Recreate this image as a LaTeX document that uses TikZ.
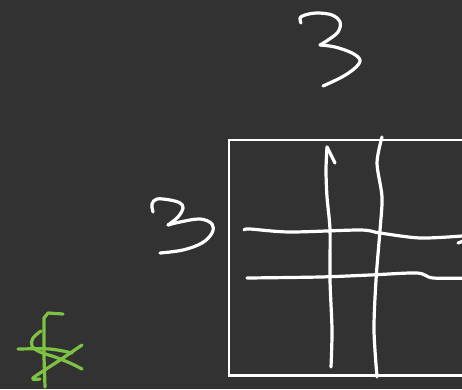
\documentclass[tikz,border=0pt]{standalone}
\begin{document}
\begin{tikzpicture}[
    x=1pt, y=-1pt,
    board/.style={fill=boardgray},
    chalk/.style={draw=white, line width=3.2pt, line cap=round, line join=round},
    frame/.style={draw=white, line width=2.6pt},
    scrawl/.style={draw=scrawlgreen, line width=3.2pt, line cap=round, line join=round},
]
\definecolor{boardgray}{HTML}{323232}
\definecolor{scrawlgreen}{HTML}{7DC242}

% Board and page size
\fill[board] (0,0) rectangle (462,389);
\useasboundingbox (0,0) rectangle (462,389);
\clip (0,0) rectangle (462,389);

% --- TOP "3" ---
\draw[chalk] plot[smooth, tension=0.6] coordinates {
  (301,23) (300,18) (305,15) (317,13) (332,15) (340,22) (338,32) (328,40) (320,45)};
\draw[chalk] plot[smooth, tension=0.6] coordinates {
  (320,45) (335,47) (352,53) (360,60) (355,68) (342,77) (323,86)};

% --- LEFT "3" ---
\draw[chalk] plot[smooth, tension=0.6] coordinates {
  (153,212) (152,204) (157,199) (170,200) (180,203) (183,208) (178,217) (168,225)};
\draw[chalk] plot[smooth, tension=0.6] coordinates {
  (168,225) (180,222) (200,219) (212,224) (212,233) (202,243) (183,250) (160,253)};

% --- Square ---
\draw[frame] (229,140) rectangle (480,375.5);

% Vertical strokes
\draw[chalk] plot[smooth, tension=0.5] coordinates {
  (331,367) (332,330) (330,280) (330,230) (327,197) (326,170) (327,147)};
\draw[chalk] (327,147) -- (335,163);
\draw[chalk] plot[smooth, tension=0.5] coordinates {
  (382,137) (377,163) (382,197) (380,230) (376,280) (374,330) (377,377)};

% Horizontal strokes
\draw[chalk] plot[smooth, tension=0.5] coordinates {
  (244,230) (250,229) (290,232) (360,230) (380,233) (420,238) (462,236)};
\draw[chalk] (458,243) -- (466,240);
\draw[chalk] plot[smooth, tension=0.5] coordinates {
  (247,278) (320,277) (370,275) (417,273) (433,278) (470,278)};

% --- Green scrawl ---
\draw[scrawl] (63,314) -- (48,313) -- (44,318) -- (44,357) -- (45,387);
\draw[scrawl] plot[smooth, tension=0.6] coordinates {
  (41,331) (33,338) (32,346) (40,352) (55,357) (70,363) (82,369)};
\draw[scrawl] plot[smooth, tension=0.5] coordinates {
  (18,349) (50,349) (72,353)};
\draw[scrawl] plot[smooth, tension=0.5] coordinates {
  (82,345) (60,360) (33,378) (40,379)};

\end{tikzpicture}
\end{document}
